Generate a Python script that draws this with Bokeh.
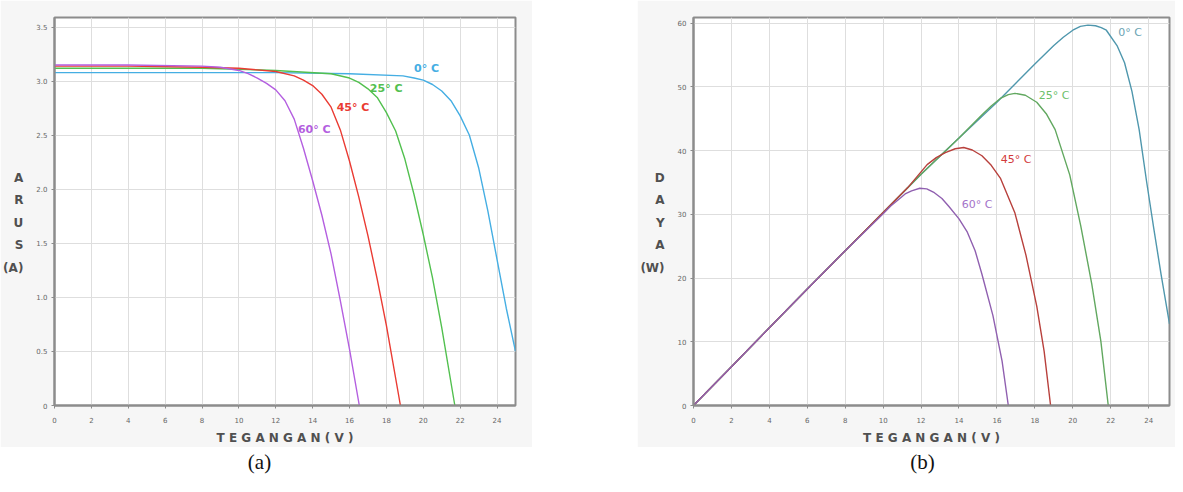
from bokeh.plotting import figure
from bokeh.models import FixedTicker, Range1d, Spacer
from bokeh.layouts import row, column
from bokeh.embed import file_html
from bokeh.resources import INLINE
from bokeh.core.properties import value

# ---------------- data ----------------
temps = ["0° C", "25° C", "45° C", "60° C"]

# (a) I-V curves: voltage (V) / current (A)
iv_v_0 = [0, 4, 8, 12, 16, 18.9, 19.5, 20.0, 20.5, 21.0, 21.5, 22.0, 22.5, 23.0, 23.5, 24.0, 24.5, 25.0]
iv_i_0 = [3.08, 3.08, 3.08, 3.08, 3.07, 3.05, 3.03, 3.01, 2.97, 2.91, 2.82, 2.68, 2.5, 2.2, 1.8, 1.35, 0.9, 0.5]
iv_v_25 = [0, 4, 8, 12, 15.0, 16.0, 16.5, 17.0, 17.5, 18.0, 18.5, 19.0, 19.5, 20.0, 20.5, 21.0, 21.71]
iv_i_25 = [3.12, 3.12, 3.12, 3.10, 3.07, 3.03, 2.99, 2.93, 2.85, 2.71, 2.54, 2.28, 1.95, 1.58, 1.18, 0.72, 0.0]
iv_v_45 = [0, 4, 8, 10, 12, 13.0, 13.5, 14.0, 14.5, 15.0, 15.5, 16.0, 16.5, 17.0, 17.5, 18.0, 18.76]
iv_i_45 = [3.14, 3.14, 3.13, 3.12, 3.09, 3.05, 3.01, 2.96, 2.88, 2.76, 2.55, 2.26, 1.93, 1.57, 1.17, 0.74, 0.0]
iv_v_60 = [0, 4, 8, 9, 10, 10.5, 11, 11.5, 12, 12.5, 13.0, 13.5, 14.0, 14.5, 15.0, 15.5, 16.0, 16.53]
iv_i_60 = [3.15, 3.15, 3.14, 3.13, 3.10, 3.07, 3.03, 2.98, 2.92, 2.82, 2.65, 2.38, 2.08, 1.76, 1.40, 0.97, 0.52, 0.0]

# (b) P-V curves: voltage (V) / power (W)
pv_v_0 = [0, 2, 4, 6, 8, 10, 12, 14, 16, 18, 19, 19.5, 20, 20.4, 20.8, 21.2, 21.5, 21.77, 22.35, 22.73,
          23.12, 23.5, 23.89, 24.27, 24.66, 25.1]
pv_p_0 = [0, 6.1, 12.2, 18.3, 24.3, 30.3, 36.3, 42.0, 47.6, 53.6, 56.5, 57.8, 58.9, 59.5, 59.7, 59.6, 59.3,
          58.9, 56.4, 53.8, 49.3, 43.3, 35.2, 27.8, 20.5, 12.8]
pv_v_25 = [0, 2, 4, 6, 8, 10, 12, 14, 15.2, 15.7, 16.18, 16.6, 16.95, 17.5, 18.1, 18.6, 19.07, 19.84,
           20.42, 21.0, 21.48, 21.87]
pv_p_25 = [0, 6.1, 12.2, 18.3, 24.3, 30.3, 36.3, 42.0, 45.6, 47.0, 48.2, 48.8, 49.0, 48.7, 47.6, 45.8,
           43.3, 36.2, 28.2, 19.1, 10.1, 0]
pv_v_45 = [0, 2, 4, 6, 8, 10, 11.3, 12.32, 12.8, 13.28, 13.8, 14.25, 14.7, 15.21, 15.7, 16.18, 16.95,
           17.53, 18.1, 18.49, 18.83]
pv_p_45 = [0, 6.1, 12.2, 18.3, 24.3, 30.3, 34.2, 37.8, 38.9, 39.7, 40.3, 40.5, 40.1, 39.2, 37.7, 35.7,
           30.2, 23.6, 15.6, 8.5, 0]
pv_v_60 = [0, 2, 4, 6, 8, 10, 10.4, 10.8, 11.16, 11.5, 11.93, 12.3, 12.7, 13.1, 13.48, 14.0, 14.44,
           14.85, 15.21, 15.79, 16.27, 16.6]
pv_p_60 = [0, 6.1, 12.2, 18.3, 24.3, 30.1, 31.3, 32.3, 33.2, 33.7, 34.1, 34.0, 33.4, 32.5, 31.2, 29.3,
           27.2, 24.3, 20.6, 14.1, 7.0, 0]

# ticks
x_ticks = [0, 2, 4, 6, 8, 10, 12, 14, 16, 18, 20, 22, 24]
x_tick_labels = ["0", "2", "4", "6", "8", "10", "12", "14", "16", "18", "20", "22", "24"]
iv_ticks = [0, 0.5, 1.0, 1.5, 2.0, 2.5, 3.0, 3.5]
iv_tick_labels = ["0", "0.5", "1.0", "1.5", "2.0", "2.5", "3.0", "3.5"]
pv_ticks = [0, 10, 20, 30, 40, 50, 60]
pv_tick_labels = ["0", "10", "20", "30", "40", "50", "60"]

# curve label anchors (left edge, vertical centre) in data units
iv_label_v = [19.5, 17.1, 15.3, 13.2]
iv_label_i = [3.12, 2.93, 2.76, 2.55]
pv_label_v = [22.4, 18.2, 16.2, 14.15]
pv_label_p = [58.6, 48.7, 38.6, 31.6]

# ---------------- style ----------------
iv_colors = ["#45aee3", "#52c04f", "#ea3b33", "#b45fe0"]
pv_colors = ["#4f97ad", "#62a860", "#b8403c", "#9060b0"]
pv_label_colors = ["#6aa3b3", "#6cc06a", "#d23c3c", "#a473c9"]
PANEL = "#f6f6f6"
FRAME = "#8c8c8c"
FONT = "DejaVu Sans"


def style(p, yticks, ylabels, ylab, xlab_size):
    p.background_fill_color = "white"
    p.border_fill_color = PANEL
    p.outline_line_color = FRAME
    p.outline_line_width = 2
    p.xgrid.grid_line_color = "#dedede"
    p.ygrid.grid_line_color = "#dedede"
    p.xaxis.ticker = FixedTicker(ticks=x_ticks)
    p.xaxis.major_label_overrides = {t: l for t, l in zip(x_ticks, x_tick_labels)}
    p.yaxis.ticker = FixedTicker(ticks=yticks)
    p.yaxis.major_label_overrides = {t: l for t, l in zip(yticks, ylabels)}
    for ax in (p.xaxis[0], p.yaxis[0]):
        ax.axis_line_color = FRAME
        ax.axis_line_width = 2
        ax.major_tick_line_color = FRAME
        ax.major_tick_out = 3
        ax.major_tick_in = 0
        ax.minor_tick_line_color = None
        ax.major_label_text_font = FONT
        ax.major_label_text_font_size = "7px"
        ax.major_label_text_color = "#666666"
        ax.axis_label_text_font = FONT
        ax.axis_label_text_font_style = "bold"
        ax.axis_label_text_color = "#505050"
    p.xaxis.major_label_standoff = 8
    p.yaxis.major_label_standoff = 4
    p.xaxis.axis_label = "T E G A N G A N ( V )"
    p.xaxis.axis_label_text_font_size = xlab_size
    p.xaxis.axis_label_standoff = 5
    p.yaxis.axis_label = ylab
    p.yaxis.axis_label_orientation = "horizontal"
    p.yaxis.axis_label_text_font_size = "12px"
    p.yaxis.axis_label_text_line_height = 1.6
    p.yaxis.axis_label_standoff = 10


H = 447
# (a)
pa = figure(width=532, height=H, x_range=Range1d(0, 25), y_range=Range1d(0, 3.59),
            output_backend="svg", toolbar_location=None,
            min_border_left=48, min_border_right=17, min_border_top=17, min_border_bottom=42)
style(pa, iv_ticks, iv_tick_labels, "\nA\nR\nU\nS\n(A)", "12px")
for vv, ii, c in zip([iv_v_0, iv_v_25, iv_v_45, iv_v_60], [iv_i_0, iv_i_25, iv_i_45, iv_i_60], iv_colors):
    pa.line(vv, ii, line_color=c, line_width=1.4)
pa.text(x=iv_label_v, y=iv_label_i, text=temps, text_color=iv_colors,
        text_font=value(FONT), text_font_size="11px", text_font_style="bold",
        text_align="left", text_baseline="middle")

# (b)
pb = figure(width=538, height=H, x_range=Range1d(0, 25.1), y_range=Range1d(0, 60.9),
            output_backend="svg", toolbar_location=None,
            min_border_left=52, min_border_right=6, min_border_top=3, min_border_bottom=42)
style(pb, pv_ticks, pv_tick_labels, "\nD\nA\nY\nA\n(W)", "12px")
for vv, pp, c in zip([pv_v_0, pv_v_25, pv_v_45, pv_v_60], [pv_p_0, pv_p_25, pv_p_45, pv_p_60], pv_colors):
    pb.line(vv, pp, line_color=c, line_width=1.4)
pb.text(x=pv_label_v, y=pv_label_p, text=temps, text_color=pv_label_colors,
        text_font=value(FONT), text_font_size="11px",
        text_align="left", text_baseline="middle")

# captions
CW, CH = 1175, 29
cap = figure(width=CW, height=CH, x_range=Range1d(0, CW), y_range=Range1d(0, CH),
             output_backend="svg", toolbar_location=None,
             min_border=0, min_border_left=0, min_border_right=0, min_border_top=0, min_border_bottom=0)
cap.axis.visible = False
cap.grid.visible = False
cap.outline_line_color = None
cap.background_fill_color = "white"
cap.border_fill_color = "white"
cap.text(x=[259, 922], y=[15, 15], text=["(a)", "(b)"], text_font=value("Liberation Serif"),
         text_font_size="21px", text_color="#111111", text_align="center", text_baseline="middle")

layout = column(row(pa, Spacer(width=105, height=H), pb), cap)
open("out.html", "w").write(file_html(layout, INLINE))
